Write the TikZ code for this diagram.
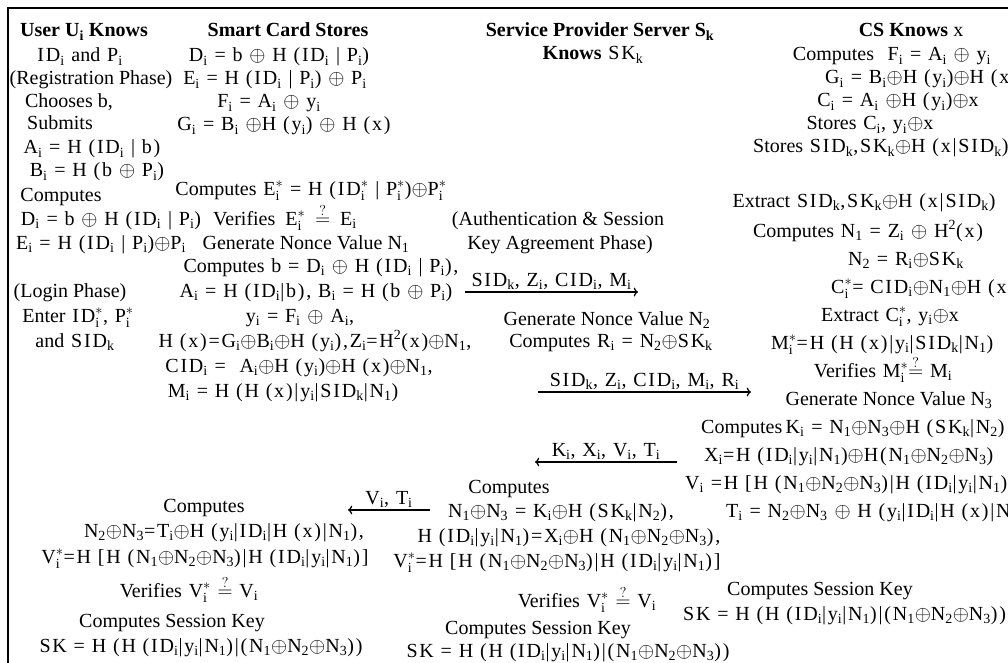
\documentclass[tikz,border=0pt]{standalone}
\usepackage{fontspec}
\setmainfont{Liberation Serif}
\newfontfamily\eqfont{Liberation Serif}[LetterSpace=9]
\usetikzlibrary{arrows.meta}

\newcommand{\op}{$\oplus$}
\newcommand{\sbi}[1]{#1\textsubscript{i}}
\newcommand{\sbk}[1]{#1\textsubscript{k}}
\newcommand{\sbs}[1]{#1$^{*}_{\mathrm{i}}$}
\newcommand{\nn}[1]{N\textsubscript{#1}}
\newcommand{\qeq}{$\stackrel{?}{=}$}
\newcommand{\txt}[1]{{\rmfamily #1}}

\begin{document}
\begin{tikzpicture}[
x=1pt, y=-1pt,
eqline/.style={inner sep=0pt, anchor=base, font=\fontsize{20}{24}\selectfont\eqfont},
wordline/.style={eqline, font=\fontsize{20}{24}\selectfont\rmfamily},
headline/.style={eqline, font=\fontsize{20}{24}\selectfont\rmfamily\bfseries},
cutline/.style={eqline, anchor=base west},
msg/.style={->, line width=1.2pt},
msglabel/.style={above, inner sep=1.5pt, font=\fontsize{20}{24}\selectfont\eqfont}
]
\useasboundingbox (0,0) rectangle (1008,663);
\clip (0,0) rectangle (1008,663);
\fill [white] (0,0) rectangle (1008,663);
\draw [line width=1.6pt] (8,663) -- (8,8) -- (1008,8);

\node (user) [headline] at (84,37) {User U\textsubscript{i} Knows};
\node (idpw) [eqline] at (80,62) {\sbi{ID} \txt{and} \sbi{P}};
\node (regphase) [wordline] at (91,85) {(Registration Phase)};
\node (chooses) [wordline] at (69,108) {Chooses b,};
\node (submits) [wordline] at (60,130) {Submits};
\node (ua) [eqline] at (92,154) {\sbi{A} = H (\sbi{ID} | b)};
\node (ub) [eqline] at (97,177) {\sbi{B} = H (b \op\ \sbi{P})};
\node (ucomp) [wordline] at (61,201) {Computes};
\node (ud) [eqline] at (111,225) {\sbi{D} = b \op\ H (\sbi{ID} | \sbi{P})};
\node (ue) [eqline] at (101,249) {\sbi{E} = H (\sbi{ID} | \sbi{P})\op \sbi{P}};
\node (login) [wordline] at (70,297) {(Login Phase)};
\node (enter) [eqline] at (78,322) {\txt{Enter} \sbs{ID}, \sbs{P}};
\node (andsid) [eqline] at (75,347) {\txt{and} \sbk{SID}};

\node (card) [headline] at (288,37) {Smart Card Stores};
\node (cd) [eqline] at (279,62) {\sbi{D} = b \op\ H (\sbi{ID} | \sbi{P})};
\node (ce) [eqline] at (275,85) {\sbi{E} = H (\sbi{ID} | \sbi{P}) \op\ \sbi{P}};
\node (cf) [eqline] at (269,108) {\sbi{F} = \sbi{A} \op\ \sbi{y}};
\node (cg) [eqline] at (284,131) {\sbi{G} = \sbi{B} \op H (\sbi{y}) \op\ H (x)};
\node (cestar) [eqline] at (311,195) {\txt{Computes} \sbs{E} = H (\sbs{ID} | \sbs{P})\op \sbs{P}};
\node (verife) [eqline] at (285,225) {\txt{Verifies}\enspace\sbs{E}\enspace\qeq\enspace\sbi{E}};
\node (nonce1) [wordline] at (306,249) {Generate Nonce Value \nn{1}};
\node (compb) [eqline] at (321,272) {\txt{Computes} b = \sbi{D} \op\ H (\sbi{ID} | \sbi{P}),};
\node (cab) [eqline] at (316,297) {\sbi{A} = H (\sbi{ID}|b), \sbi{B} = H (b \op\ \sbi{P})};
\node (cy) [eqline] at (300,322) {\sbi{y} = \sbi{F} \op\ \sbi{A},};
\node (chx) [eqline] at (315,347) {H (x)=\sbi{G}\op \sbi{B}\op H (\sbi{y}),\sbi{Z}=H\textsuperscript{2}(x)\op \nn{1},};
\node (ccid) [eqline] at (299,372) {\sbi{CID} =\ \ \sbi{A}\op H (\sbi{y})\op H (x)\op \nn{1},};
\node (cm) [eqline] at (283,397) {\sbi{M} = H (H (x)|\sbi{y}|\sbk{SID}|\nn{1})};

\node (server) [headline] at (600,37) {Service Provider Server S\textsubscript{k}};
\node (srvkey) [eqline] at (593,60) {\txt{\textbf{Knows}} \sbk{SK}};
\node (auth) [wordline] at (558,225) {(Authentication \& Session};
\node (keyagr) [wordline] at (560,249) {Key Agreement Phase)};
\node (nonce2) [wordline] at (607,325) {Generate Nonce Value \nn{2}};
\node (compr) [eqline] at (611,347) {\txt{Computes} \sbi{R} = \nn{2}\op \sbk{SK}};
\node (mcomp) [wordline] at (509,493) {Computes};
\node (mn13) [eqline] at (561,517) {\nn{1}\op \nn{3} = \sbi{K}\op H (\sbk{SK}|\nn{2}),};
\node (mhid) [eqline] at (569,542) {H (\sbi{ID}|\sbi{y}|\nn{1})=\sbi{X}\op H (\nn{1}\op \nn{2}\op \nn{3}),};
\node (mvstar) [eqline] at (557,567) {\sbs{V}=H [H (\nn{1}\op \nn{2}\op \nn{3})|H (\sbi{ID}|\sbi{y}|\nn{1})]};
\node (mverif) [eqline] at (587,607) {\txt{Verifies} \sbs{V} \qeq{} \sbi{V}};
\node (mcsk) [wordline] at (538,634) {Computes Session Key};
\node (msk) [eqline] at (568,657) {SK = H (H (\sbi{ID}|\sbi{y}|\nn{1})|(\nn{1}\op \nn{2}\op \nn{3}))};

\node (lcomp) [wordline] at (204,512) {Computes};
\node (ln23) [eqline] at (224,537) {\nn{2}\op \nn{3}=\sbi{T}\op H (\sbi{y}|\sbi{ID}|H (x)|\nn{1}),};
\node (lvstar) [eqline] at (205,563) {\sbs{V}=H [H (\nn{1}\op \nn{2}\op \nn{3})|H (\sbi{ID}|\sbi{y}|\nn{1})]};
\node (lverif) [eqline] at (189,597) {\txt{Verifies} \sbs{V} \qeq{} \sbi{V}};
\node (lcsk) [wordline] at (172,627) {Computes Session Key};
\node (lsk) [eqline] at (201,652) {SK = H (H (\sbi{ID}|\sbi{y}|\nn{1})|(\nn{1}\op \nn{2}\op \nn{3}))};

\node (cs) [headline] at (911,37) {CS Knows {\mdseries x}};
\node (rf) [eqline] at (892,61) {\txt{Computes}\ \ \sbi{F} = \sbi{A} \op\ \sbi{y}};
\node (rg) [cutline] at (825,84) {\sbi{G} = \sbi{B}\op H (\sbi{y})\op H (x)};
\node (rc) [eqline] at (898,107) {\sbi{C} = \sbi{A} \op H (\sbi{y})\op x};
\node (rstc) [eqline] at (870,130) {\txt{Stores} \sbi{C}, \sbi{y}\op x};
\node (rsts) [cutline] at (753,153) {\txt{Stores} \sbk{SID},\sbk{SK}\op H (x|\sbk{SID})};
\node (rext) [eqline] at (864,207) {\txt{Extract} \sbk{SID},\sbk{SK}\op H (x|\sbk{SID})};
\node (rn1) [eqline] at (868,237) {\txt{Computes} \nn{1} = \sbi{Z} \op\ H\textsuperscript{2}(x)};
\node (rn2) [eqline] at (906,265) {\nn{2} = \sbi{R}\op \sbk{SK}};
\node (rcs) [cutline] at (831,293) {\sbs{C}= \sbi{CID}\op \nn{1}\op H (x)\op x};
\node (rexc) [eqline] at (890,321) {\txt{Extract} \sbs{C}, \sbi{y}\op x};
\node (rms) [cutline] at (771,349) {\sbs{M}=H (H (x)|\sbi{y}|\sbk{SID}|\nn{1})};
\node (rver) [eqline] at (883,377) {\txt{Verifies} \sbs{M}\qeq{} \sbi{M}};
\node (nonce3) [wordline] at (889,405) {Generate Nonce Value \nn{3}};
\node (rk) [cutline] at (701,433) {\txt{Computes}\,\sbi{K} = \nn{1}\op \nn{3}\op H (\sbk{SK}|\nn{2})};
\node (rx) [cutline] at (704,461) {\sbi{X}=H (\sbi{ID}|\sbi{y}|\nn{1})\op H(\nn{1}\op \nn{2}\op \nn{3})};
\node (rv) [cutline] at (685,489) {\sbi{V} =H [H (\nn{1}\op \nn{2}\op \nn{3})|H (\sbi{ID}|\sbi{y}|\nn{1})]};
\node (rt) [cutline] at (726,517) {\sbi{T} = \nn{2}\op \nn{3} \op\ H (\sbi{y}|\sbi{ID}|H (x)|\nn{1})};
\node (rcsk) [wordline] at (820,595) {Computes Session Key};
\node (rsk) [cutline] at (683,620) {SK = H (H (\sbi{ID}|\sbi{y}|\nn{1})|(\nn{1}\op \nn{2}\op \nn{3}))};

\coordinate (loginfrom) at (465,292);
\coordinate (loginto) at (638,292);
\coordinate (fwdfrom) at (538,392);
\coordinate (fwdto) at (751,392);
\coordinate (backfrom) at (677,462);
\coordinate (backto) at (535,462);
\coordinate (replyfrom) at (430,510);
\coordinate (replyto) at (348,510);

\draw [msg] (loginfrom) -- node [msglabel] {\sbk{SID}, \sbi{Z}, \sbi{CID}, \sbi{M}} (loginto);
\draw [msg] (fwdfrom) -- node [msglabel] {\sbk{SID}, \sbi{Z}, \sbi{CID}, \sbi{M}, \sbi{R}} (fwdto);
\draw [msg] (backfrom) -- node [msglabel] {\sbi{K}, \sbi{X}, \sbi{V}, \sbi{T}} (backto);
\draw [msg] (replyfrom) -- node [msglabel] {\sbi{V}, \sbi{T}} (replyto);
\end{tikzpicture}
\end{document}
